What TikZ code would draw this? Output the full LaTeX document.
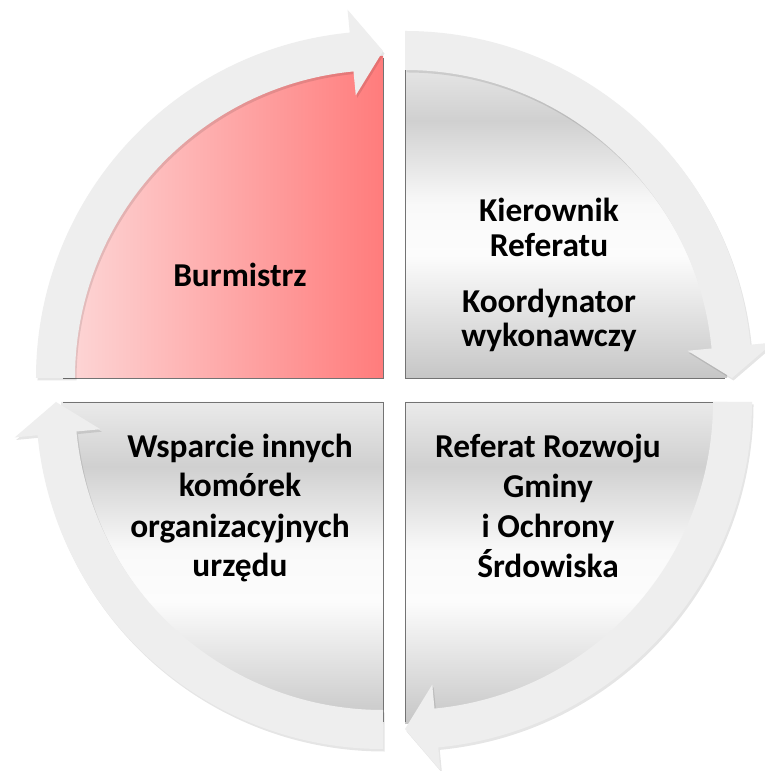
\documentclass[tikz,border=0pt]{standalone}
\usepackage{fontspec}
\setmainfont{Carlito}
\definecolor{pinkL}{RGB}{253,216,216}
\definecolor{pinkR}{RGB}{255,124,124}
\definecolor{bandc}{RGB}{238,238,238}
\definecolor{edgec}{RGB}{115,115,115}
\definecolor{qgA}{RGB}{234,234,234}
\definecolor{qgB}{RGB}{208,208,208}
\definecolor{qgC}{RGB}{249,249,249}
\definecolor{qgD}{RGB}{252,252,252}
\definecolor{qgE}{RGB}{198,198,198}
\pgfdeclareverticalshading{quadgray}{100bp}{color(0bp)=(qgE); color(25bp)=(qgE); color(44bp)=(qgD); color(52bp)=(qgC); color(65bp)=(qgB); color(75bp)=(qgA); color(100bp)=(qgA)}
\tikzset{
  pinkquad/.style={left color=pinkL, right color=pinkR},
  grayquad/.style={shading=quadgray},
  quadedge/.style={draw=edgec, line width=0.9bp},
  band/.style={fill=bandc},
  bandshadow/.style={fill=black, fill opacity=0.10},
  lbl/.style={font=\bfseries\fontsize{33.5}{40}\selectfont, anchor=base, inner sep=0pt, text=black}
}
\begin{document}
\begin{tikzpicture}[x=1bp,y=1bp]
\useasboundingbox (0,0) rectangle (765,771);
\clip (0,0) rectangle (765,771);
\fill[white] (0,0) rectangle (765,771);
% quadrants
\path[pinkquad, shift={(383,393)}] (0,0) -- (180:322bp) arc[start angle=180, end angle=90, radius=322bp] -- cycle;
\draw[quadedge, shift={(383,393)}] (0,320) -- (0,0) -- (-320,0);
\path[grayquad, shift={(405,393)}] (0,0) -- (90:322bp) arc[start angle=90, end angle=0, radius=322bp] -- cycle;
\draw[quadedge, shift={(405,393)}] (0,320) -- (0,0) -- (320,0);
\path[grayquad, shift={(405,369)}] (0,0) -- (0:322bp) arc[start angle=0, end angle=-90, radius=322bp] -- cycle;
\draw[quadedge, shift={(405,369)}] (0,-320) -- (0,0) -- (320,0);
\path[grayquad, shift={(383,369)}] (0,0) -- (-90:322bp) arc[start angle=-90, end angle=-180, radius=322bp] -- cycle;
\draw[quadedge, shift={(383,369)}] (0,-320) -- (0,0) -- (-320,0);
% circular arrow bands
\foreach \px/\py/\e in {383/393/90, 405/393/0, 405/369/-90, 383/369/-180}{
  \pgfmathsetmacro{\s}{\e+90}
  \pgfmathsetmacro{\h}{\e+5.5}
  \path[bandshadow, shift={(\px+1.5,\py-2.5)}] (\s:347bp) arc[start angle=\s, end angle=\h, radius=347bp] -- (\h:370bp) -- (\e:327bp) -- (\h:284bp) -- (\h:308bp) arc[start angle=\h, end angle=\s, radius=308bp] -- cycle;
  \path[band, shift={(\px,\py)}] (\s:347bp) arc[start angle=\s, end angle=\h, radius=347bp] -- (\h:370bp) -- (\e:327bp) -- (\h:284bp) -- (\h:308bp) arc[start angle=\h, end angle=\s, radius=308bp] -- cycle;
}
% labels
\node[lbl] (burm) at (240,484) {Burmistrz};
\node[lbl] (kier) at (549,549) {Kierownik};
\node[lbl] (ref) at (549,514) {Referatu};
\node[lbl] (koord) at (549,458) {Koordynator};
\node[lbl] (wyk) at (549,424) {wykonawczy};
\node[lbl] (rr1) at (548,313) {Referat Rozwoju};
\node[lbl] (rr2) at (548,273) {Gminy};
\node[lbl] (rr3) at (548,233) {i Ochrony};
\node[lbl] (rr4) at (548,193) {Śrdowiska};
\node[lbl] (ws1) at (240,313) {Wsparcie innych};
\node[lbl] (ws2) at (240,274) {komórek};
\node[lbl] (ws3) at (240,233) {organizacyjnych};
\node[lbl] (ws4) at (240,194) {urzędu};
\end{tikzpicture}
\end{document}
